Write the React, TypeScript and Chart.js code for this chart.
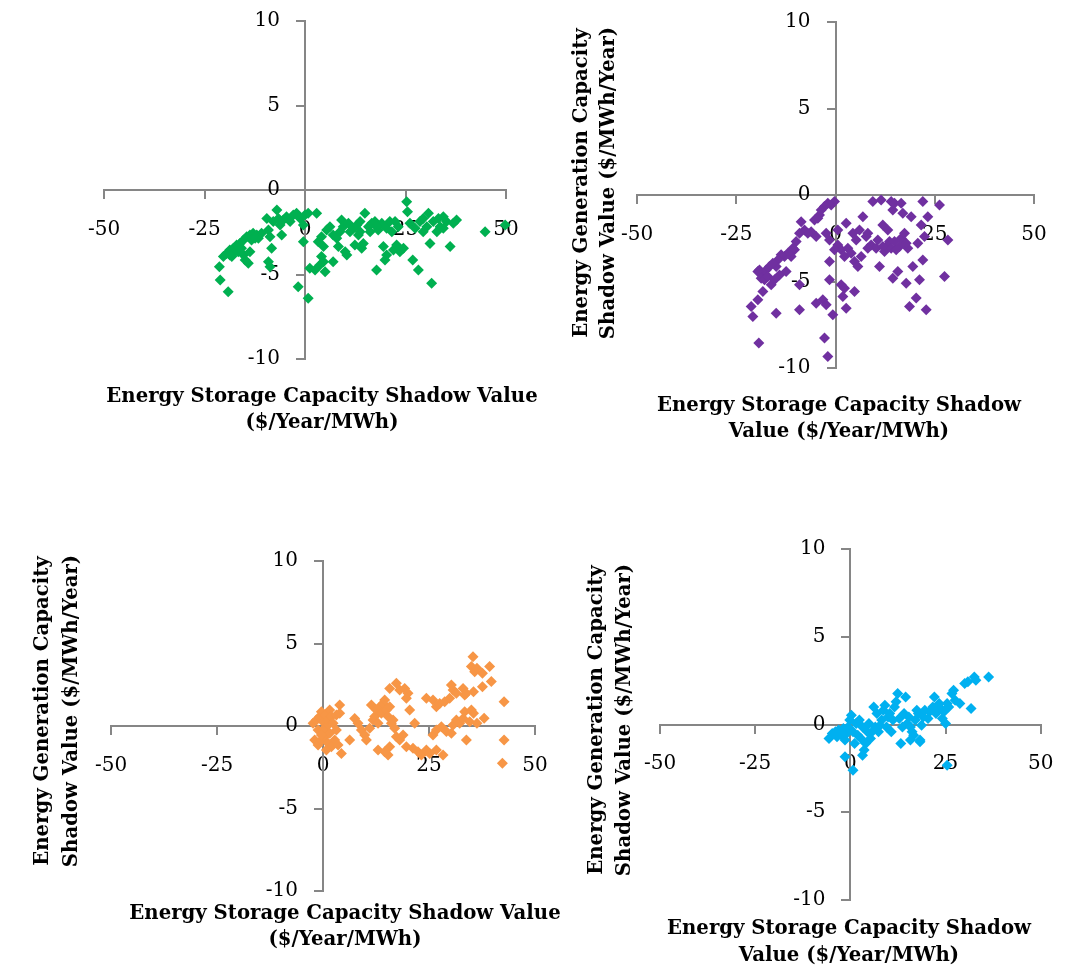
import React, { useEffect, useRef } from 'react';
import { Chart, registerables, LinearScale } from 'chart.js';

Chart.register(...registerables);

const PAGE_W = 1073;
const PAGE_H = 968;

// ---- axis ticks / titles ----
const xTickStep = 25;
const yTickStep = 5;
const xRange = [-50, 50];
const yRange = [-10, 10];

const xTitleLong = ['Energy Storage Capacity Shadow Value', '($/Year/MWh)'];
const xTitleShort = ['Energy Storage Capacity Shadow', 'Value ($/Year/MWh)'];
const yTitleLines = ['Energy Generation Capacity', 'Shadow Value ($/MWh/Year)'];

// ---- data: green panel ----
const greenStorage = [
  -21.3, -21.1, -19.1, -20.3, -19.5, -18.7, -17.8, -17.0, -16.2, -15.3,
  -14.5, -13.7, -12.9, -12.0, -16.6, -15.3, -14.1, -14.9, -17.8, -18.7,
  -13.3, -11.6, -10.8, -9.5, -9.1, -8.7, -8.3, -9.1, -8.7, -7.9,
  -7.0, -6.6, -6.2, -5.8, -5.4, -4.6, -3.7, -2.9, -2.1, -1.2,
  -0.4, 0.0, 0.8, -0.4, 2.9, -1.7, 0.8, 1.2, 2.5, 3.7,
  4.1, 4.6, 5.0, 7.0, 3.3, 4.1, 5.4, 6.2, 7.0, 7.9,
  8.3, 9.1, 9.5, 10.0, 10.4, 10.8, 11.2, 12.0, 12.9, 13.7,
  13.3, 14.1, 14.5, 14.9, 15.8, 16.6, 17.4, 17.8, 18.2, 19.1,
  19.5, 19.9, 20.3, 21.1, 21.6, 22.0, 22.8, 23.2, 23.6, 24.5,
  25.3, 25.5, 26.1, 26.8, 27.4, 28.2, 28.6, 29.4, 30.3, 30.7,
  31.1, 31.5, 31.9, 33.2, 33.6, 34.4, 35.2, 36.1, 36.9, 37.7,
  44.8, 49.8, 16.2, 17.8, 20.3, 22.4, 29.4, 32.8, 34.4, 8.7,
  13.7, 12.4, 4.6, -18.2, -15.8, -12.4, -13.7,
];
const greenGeneration = [
  -4.54, -5.33, -6.02, -3.94, -3.75, -3.55, -3.45, -3.25, -3.16, -2.96,
  -2.76, -2.66, -2.56, -2.66, -3.65, -3.85, -4.34, -4.14, -3.75, -3.85,
  -2.96, -2.86, -2.56, -1.68, -2.37, -2.76, -3.45, -4.24, -4.54, -1.87,
  -1.18, -1.68, -2.07, -2.66, -1.78, -1.58, -1.87, -1.48, -1.38, -1.68,
  -2.07, -1.48, -1.38, -3.06, -1.38, -5.72, -6.41, -4.63, -4.73, -4.44,
  -3.94, -4.24, -4.83, -4.24, -3.06, -2.76, -2.37, -2.17, -2.66, -2.86,
  -3.35, -1.78, -2.17, -3.65, -3.85, -1.97, -2.47, -2.27, -2.07, -1.87,
  -2.66, -3.45, -3.16, -1.38, -2.17, -1.97, -1.87, -4.73, -2.37, -1.97,
  -3.35, -4.14, -3.85, -1.87, -2.47, -3.55, -3.25, -2.17, -3.65, -3.45,
  -0.69, -1.28, -1.97, -4.14, -2.27, -4.73, -1.87, -1.68, -2.17, -1.38,
  -3.16, -5.52, -1.87, -1.68, -2.17, -1.58, -1.87, -3.35, -1.97, -1.78,
  -2.47, -2.07, -2.47, -2.17, -2.27, -1.87, -2.47, -2.47, -2.27, -2.47,
  -2.47, -3.25, -3.35, -3.94, -3.45, -2.86, -3.65,
];

// ---- data: purple panel ----
const purpleStorage = [
  -0.25, -1.09, -1.93, -2.77, -3.61, -4.03, -4.45, -5.29, -4.87, -6.13,
  -6.97, -7.81, -8.65, -9.07, -9.91, -10.33, -10.75, -11.17, -12.01, -12.85,
  -13.69, -14.53, -14.94, -15.79, -16.62, -17.46, -18.3, -19.14, -19.56, -18.72,
  -17.88, -17.05, -16.2, -15.37, -14.11, -12.43, -18.3, -19.56, -21.24, -20.82,
  -14.94, -9.07, -4.87, -3.19, -2.35, -0.67, -2.77, -1.93, -19.31, -9.07,
  -1.51, 1.43, 2.27, 1.85, 2.69, 4.79, -1.51, -1.51, -2.35, 0.59,
  1.43, 2.27, 2.69, 3.11, 3.95, 4.37, 4.79, 5.21, 5.63, 6.05,
  6.47, 6.89, 7.73, 8.14, 8.98, 9.4, 10.24, 11.08, 11.5, 11.92,
  12.34, 12.76, 13.18, 13.6, 14.02, 14.02, 14.44, 14.44, 14.86, 15.28,
  15.7, 16.54, 16.54, 16.96, 17.38, 17.8, 18.22, 18.64, 19.06, 19.48,
  20.32, 20.74, 21.16, 21.58, 22.0, 22.0, 22.42, 22.84, 23.26, 26.2,
  27.46, 28.3, 17.8, 16.12, 14.86, 11.92, 10.66, 8.14, 0.59, -0.25,
];
const purpleGeneration = [
  -0.38, -0.58, -0.48, -0.67, -0.87, -1.15, -1.35, -1.44, -2.4, -2.12,
  -2.21, -2.02, -1.54, -2.21, -2.69, -3.17, -3.08, -3.56, -3.37, -3.56,
  -3.46, -3.75, -4.14, -3.94, -4.14, -4.33, -4.52, -4.33, -4.42, -4.81,
  -4.9, -4.71, -5.19, -4.9, -4.62, -4.42, -5.58, -6.06, -6.44, -7.02,
  -6.83, -6.64, -6.25, -6.06, -6.35, -6.92, -8.27, -9.33, -8.56, -5.19,
  -4.9, -5.19, -5.39, -5.87, -6.54, -5.58, -3.85, -2.6, -2.21, -2.89,
  -3.17, -3.56, -1.63, -3.08, -3.37, -2.21, -3.85, -2.6, -4.14, -2.02,
  -3.56, -1.25, -2.4, -2.21, -2.89, -0.38, -3.08, -4.14, -0.29, -1.73,
  -3.27, -2.98, -2.02, -2.69, -3.08, -0.38, -0.87, -4.81, -0.48, -3.17,
  -4.42, -0.48, -2.5, -1.06, -2.21, -5.1, -3.08, -6.44, -1.25, -4.14,
  -5.96, -2.79, -4.9, -1.73, -0.38, -3.75, -2.4, -6.64, -1.25, -0.58,
  -4.71, -2.6, -2.79, -2.98, -2.69, -2.98, -2.6, -3.08, -2.02, -3.17,
];

// ---- data: orange panel ----
const orangeStorage = [
  -2.35, -1.56, -1.17, -0.78, -0.38, 0.0, 0.4, 0.79, 1.19, 1.58,
  1.97, 2.37, 3.15, 3.94, 3.94, -1.96, -1.17, -0.38, 0.4, 1.19,
  1.97, 2.76, 3.55, 4.33, 6.3, 0.0, 1.58, 3.15, 0.79, -0.38,
  7.48, 8.26, 9.05, 9.83, 10.23, 11.01, 11.8, 11.41, 12.19, 12.59,
  12.98, 13.37, 13.77, 14.16, 14.55, 14.95, 15.34, 15.73, 16.12, 16.52,
  15.73, 17.3, 18.09, 19.27, 20.05, 19.66, 20.45, 16.91, 17.3, 18.09,
  18.88, 19.66, 15.73, 15.34, 12.98, 14.55, 21.63, 21.23, 22.41, 23.2,
  24.38, 25.17, 26.74, 28.31, 24.38, 25.95, 26.74, 27.52, 28.7, 29.88,
  30.67, 30.28, 31.45, 33.03, 33.42, 25.95, 26.74, 27.92, 29.1, 30.28,
  30.67, 31.45, 32.24, 33.03, 33.42, 34.99, 35.38, 34.99, 35.78, 34.6,
  33.81, 36.3, 37.6, 39.3, 39.7, 37.6, 35.5, 33.8, 42.7, 42.7,
  42.3, 38.0, 36.3, 35.5,
];
const orangeGeneration = [
  0.16, 0.36, -0.24, 0.57, 0.87, 0.26, 0.67, -0.04, 0.36, 0.97,
  0.57, 0.16, 0.67, 1.27, 0.77, -0.85, -1.15, -0.85, -0.65, -1.05,
  -1.25, -0.85, -1.15, -1.66, -0.85, -0.24, -0.44, -0.24, -1.45, -0.55,
  0.46, 0.16, -0.24, -0.55, -0.85, -0.14, 0.36, 1.27, 0.57, 0.97,
  0.16, 1.17, 0.77, 1.37, 1.58, 0.97, 0.57, 1.17, 0.16, 0.36,
  2.28, 2.59, 2.18, 2.28, 1.98, 1.68, 0.97, -0.14, -0.65, -0.85,
  -0.55, -1.25, -1.25, -1.76, -1.45, -1.56, 0.16, -1.35, -1.56, -1.76,
  -1.45, -1.66, -1.45, -1.76, 1.68, 1.58, 1.17, 1.37, 1.47, 1.68,
  2.18, 2.48, 1.98, 2.28, 1.88, -0.55, -0.24, -0.04, -0.34, -0.44,
  0.06, 0.36, 0.16, 0.46, 0.87, 0.97, 4.2, 3.6, 3.29, 0.26,
  -0.85, 3.5, 3.19, 3.6, 2.69, 2.38, 2.08, 1.98, 1.47, -0.85,
  -2.26, 0.47, 0.16, 0.77,
];

// ---- data: blue panel ----
const blueStorage = [
  -5.61, -4.77, -3.93, -3.51, -3.09, -2.26, -1.84, -1.42, -1.0, -0.58,
  -0.16, 0.26, 0.68, 1.1, 1.52, 1.94, 2.36, 2.77, 3.19, 3.61,
  4.03, 4.45, 4.87, 5.29, 5.71, 6.13, 6.55, 6.97, 7.39, 7.8,
  8.22, 8.64, 9.06, 9.48, 9.9, 10.32, 10.74, 11.16, 11.58, 12.0,
  12.42, 12.83, 13.25, 13.67, 14.09, 14.51, 14.93, 15.35, 15.77, 16.19,
  16.61, 17.03, 17.45, 17.86, 18.28, 18.7, 19.12, 19.54, 20.38, 20.8,
  21.64, 22.06, 22.48, 23.32, 23.73, 24.15, 24.57, 24.99, 25.41, 25.83,
  26.67, 27.09, 27.51, 28.76, 30.02, 30.86, 31.7, 32.54, 32.96, 36.31,
  -1.42, 0.68, 3.19, 25.41, 15.77, 18.28,
];
const blueGeneration = [
  -0.8, -0.51, -0.42, -0.7, -0.32, -0.61, -0.23, -0.89, -0.51, -0.14,
  0.25, 0.53, -0.42, -1.08, 0.06, -0.61, 0.25, -0.8, -0.14, -1.46,
  -1.08, -0.42, 0.06, -0.8, -0.42, 1.0, -0.14, 0.63, -0.42, -0.04,
  0.25, 0.81, 1.1, -0.14, 0.43, 0.63, -0.42, 0.25, 1.0, 1.29,
  1.76, 0.34, -1.08, -0.14, 0.63, 1.57, 0.06, 0.43, -0.14, -0.42,
  -0.61, 0.25, 0.81, 0.63, -0.99, -0.04, 0.43, 0.81, 0.34, 0.72,
  1.0, 1.57, 0.63, 1.19, 0.91, 0.34, 0.72, 0.06, 1.19, 1.0,
  1.76, 1.95, 1.38, 1.19, 2.33, 2.43, 0.91, 2.71, 2.52, 2.71,
  -1.84, -2.6, -1.75, -2.32, -0.89, -0.89,
];

// ---- styling / layout (not data) ----
const FONT_FAMILY = '"DejaVu Serif", "Liberation Serif", serif';
const TICK_FONT_SIZE = 20;
const TITLE_FONT = `bold 19.7px ${FONT_FAMILY}`;
const AXIS_COLOR = '#868686';
const Y_LABEL_GAP = 25;

// Linear scale whose y tick labels sit a fixed gap away from an axis that crosses the plot.
class CrossLinearScale extends (LinearScale as any) {
  static id = 'crossLinear';
  static defaults = (LinearScale as any).defaults;
  _computeLabelItems(chartArea: any) {
    const items = super._computeLabelItems(chartArea);
    if ((this as any).axis === 'y') {
      items.forEach((it: any) => {
        const t = it.options.translation;
        it.options.translation = [t[0] - Y_LABEL_GAP, t[1]];
      });
    }
    return items;
  }
}
Chart.register(CrossLinearScale as any);

type TitleSpec = { lines: string[]; center: number; baselines: number[] };
type PanelSpec = {
  key: string;
  storage: number[];
  generation: number[];
  color: string;
  area: { left: number; right: number; top: number; bottom: number };
  xTitle: TitleSpec;
  yTitle: TitleSpec | null;
};

const panels: PanelSpec[] = [
  {
    key: 'green', storage: greenStorage, generation: greenGeneration, color: '#00B050',
    area: { left: 104, right: 506, top: 21, bottom: 359 },
    xTitle: { lines: xTitleLong, center: 322, baselines: [402, 428] },
    yTitle: null,
  },
  {
    key: 'purple', storage: purpleStorage, generation: purpleGeneration, color: '#7030A0',
    area: { left: 637, right: 1034, top: 22, bottom: 368 },
    xTitle: { lines: xTitleShort, center: 839, baselines: [411, 437] },
    yTitle: { lines: yTitleLines, center: 183, baselines: [587, 614] },
  },
  {
    key: 'orange', storage: orangeStorage, generation: orangeGeneration, color: '#F79646',
    area: { left: 111, right: 535, top: 561, bottom: 891 },
    xTitle: { lines: xTitleLong, center: 345, baselines: [919, 945] },
    yTitle: { lines: yTitleLines, center: 711, baselines: [48, 77] },
  },
  {
    key: 'blue', storage: blueStorage, generation: blueGeneration, color: '#00B0F0',
    area: { left: 660, right: 1054, top: 549, bottom: 900 },
    xTitle: { lines: xTitleShort, center: 849, baselines: [934, 961] },
    yTitle: { lines: yTitleLines, center: 720, baselines: [602, 630] },
  },
];

const axisTitlePlugin = {
  id: 'axisTitles',
  afterDraw(chart: any, _args: any, opts: any) {
    const spec: PanelSpec = opts.spec;
    if (!spec) return;
    const ctx = chart.ctx as CanvasRenderingContext2D;
    ctx.save();
    ctx.fillStyle = '#000000';
    ctx.font = TITLE_FONT;
    ctx.textAlign = 'center';
    ctx.textBaseline = 'alphabetic';
    spec.xTitle.lines.forEach((t, i) => ctx.fillText(t, spec.xTitle.center, spec.xTitle.baselines[i]));
    if (spec.yTitle) {
      const yt = spec.yTitle;
      yt.lines.forEach((t, i) => {
        ctx.save();
        ctx.translate(yt.baselines[i], yt.center);
        ctx.rotate(-Math.PI / 2);
        ctx.fillText(t, 0, 0);
        ctx.restore();
      });
    }
    ctx.restore();
  },
};

function PanelChart({ spec }: { spec: PanelSpec }) {
  const ref = useRef<HTMLCanvasElement | null>(null);
  useEffect(() => {
    if (!ref.current) return;
    const points = spec.storage.map((x, i) => ({ x, y: spec.generation[i] }));
    const axisCommon = {
      type: 'crossLinear',
      grid: { display: true, drawOnChartArea: false, drawTicks: true, tickLength: 8, color: AXIS_COLOR, lineWidth: 2 },
      border: { display: true, color: AXIS_COLOR, width: 2 },
    };
    const chart = new Chart(ref.current, {
      type: 'scatter',
      data: {
        datasets: [
          {
            data: points,
            backgroundColor: spec.color,
            borderColor: spec.color,
            borderWidth: 0,
            pointStyle: 'rectRot',
            pointRadius: 5.5,
            clip: false,
          } as any,
        ],
      },
      options: {
        responsive: false,
        animation: false,
        devicePixelRatio: 1,
        events: [],
        layout: {
          padding: {
            left: spec.area.left,
            right: PAGE_W - spec.area.right,
            top: spec.area.top,
            bottom: PAGE_H - spec.area.bottom,
          },
        },
        plugins: {
          legend: { display: false },
          tooltip: { enabled: false },
          axisTitles: { spec },
        } as any,
        scales: {
          x: {
            ...axisCommon,
            min: xRange[0],
            max: xRange[1],
            position: { y: 0 } as any,
            ticks: {
              stepSize: xTickStep,
              autoSkip: false,
              maxRotation: 0,
              padding: 19.5,
              color: '#000000',
              font: { family: FONT_FAMILY, size: TICK_FONT_SIZE },
            },
          },
          y: {
            ...axisCommon,
            min: yRange[0],
            max: yRange[1],
            position: { x: 0 } as any,
            ticks: {
              stepSize: yTickStep,
              autoSkip: false,
              padding: 0,
              color: '#000000',
              font: { family: FONT_FAMILY, size: TICK_FONT_SIZE },
            },
          },
        },
      } as any,
      plugins: [axisTitlePlugin],
    });
    return () => chart.destroy();
  }, [spec]);
  return (
    <canvas
      ref={ref}
      width={PAGE_W}
      height={PAGE_H}
      style={{ position: 'absolute', left: 0, top: 0, width: PAGE_W, height: PAGE_H }}
    />
  );
}

export default function App() {
  return (
    <div style={{ position: 'absolute', left: 0, top: 0, width: PAGE_W, height: PAGE_H, background: '#ffffff', overflow: 'hidden' }}>
      {panels.map((p) => (
        <PanelChart key={p.key} spec={p} />
      ))}
    </div>
  );
}
